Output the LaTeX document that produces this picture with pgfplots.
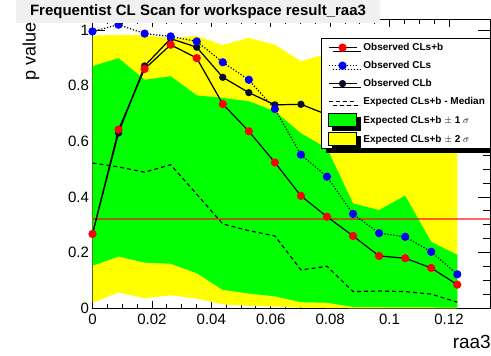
\documentclass[border=0pt]{standalone}
\usepackage{fontspec}
\setmainfont{Liberation Sans}
\usepackage{pgfplots}
\usepackage{pgfplotstable}
\pgfplotsset{compat=1.18}
\usepgfplotslibrary{fillbetween}
\usetikzlibrary{shadows}
\definecolor{rootgreen}{RGB}{0,255,0}
\definecolor{rootyellow}{RGB}{255,255,0}
\definecolor{rootnavy}{RGB}{10,10,45}
\definecolor{titlegray}{RGB}{240,240,240}

\pgfplotstableread{
x        clsb   cls    clb    med    gl     gu     yl     yu
0.00000  0.267  0.995  0.268  0.522  0.153  0.870  0.020  0.980
0.00877  0.642  1.019  0.630  0.508  0.186  0.899  0.057  0.982
0.01754  0.860  0.987  0.871  0.489  0.164  0.821  0.036  0.982
0.02631  0.947  0.977  0.969  0.516  0.160  0.834  0.047  0.970
0.03508  0.899  0.959  0.938  0.410  0.126  0.765  0.035  0.978
0.04385  0.734  0.884  0.830  0.303  0.066  0.756  0.014  0.946
0.05262  0.636  0.821  0.775  0.279  0.053  0.744  0.009  0.972
0.06139  0.524  0.716  0.731  0.260  0.043  0.708  0.006  0.947
0.07016  0.404  0.552  0.733  0.138  0.022  0.629  0.002  0.888
0.07893  0.329  0.473  0.696  0.151  0.020  0.575  0.001  0.915
0.08770  0.260  0.339  0.767  0.060  0.005  0.377  0.000  0.930
0.09647  0.188  0.270  0.696  0.062  0.004  0.353  0.000  0.940
0.10524  0.180  0.257  0.700  0.060  0.003  0.405  0.000  0.950
0.11401  0.145  0.203  0.714  0.051  0.003  0.239  0.000  0.960
0.12278  0.085  0.122  0.697  0.022  0.002  0.192  0.000  0.570
}\scan

\begin{document}
\begin{tikzpicture}[x=1pt,y=1pt]
\path (0,0) rectangle (491,356);
\begin{axis}[
  at={(92.5pt,47.7pt)}, anchor=south west,
  scale only axis, width=397.5pt, height=288.6pt,
  xmin=0, xmax=0.1338, ymin=0, ymax=1.037,
  axis line style={line width=0.8pt},
  tick align=inside, xtick pos=both, ytick pos=both,
  xticklabel pos=lower, yticklabel pos=left,
  xtick={0,0.02,0.04,0.06,0.08,0.1,0.12},
  xticklabels={0,0.02,0.04,0.06,0.08,0.1,0.12},
  ytick={0,0.2,0.4,0.6,0.8,1},
  yticklabels={0,0.2,0.4,0.6,0.8,1},
  minor x tick num=3, minor y tick num=3,
  major tick length=12pt, minor tick length=6.5pt,
  xtick style={line width=0.8pt, black, /pgfplots/major tick length=7pt, /pgfplots/minor tick length=4pt},
  ytick style={line width=0.8pt, black},
  minor tick style={line width=0.8pt, black},
  ticklabel style={font=\fontsize{15}{18}\selectfont},
  xticklabel style={yshift=-2.5pt},
  legend cell align=left,
  legend image code/.code={\draw[mark repeat=2,mark phase=2,#1] plot coordinates {(0pt,0pt) (14pt,0pt) (28pt,0pt)};},
  legend style={at={(0.576,0.9366)}, anchor=north west, draw=black, line width=1pt, fill=white,
    drop shadow={shadow xshift=4pt, shadow yshift=-4pt, fill=black, opacity=1},
    inner xsep=6pt, inner ysep=2.8pt, row sep=5.3pt,
    font=\bfseries\fontsize{10}{12}\selectfont,
    nodes={inner sep=0pt, text height=9.5pt, text depth=3.2pt},
    /tikz/every odd column/.append style={column sep=6.3pt}},
]
% bands
\addplot[name path=yu, draw=none, forget plot] table[x=x,y=yu]{\scan};
\addplot[name path=yl, draw=none, forget plot] table[x=x,y=yl]{\scan};
\addplot[fill=rootyellow, draw=none, forget plot] fill between[of=yu and yl];
\addplot[name path=gu, draw=none, forget plot] table[x=x,y=gu]{\scan};
\addplot[name path=gl, draw=none, forget plot] table[x=x,y=gl]{\scan};
\addplot[fill=rootgreen, draw=none, forget plot] fill between[of=gu and gl];
% median
\addplot[black, line width=1.2pt, dash pattern=on 4pt off 3pt, forget plot] table[x=x,y=med]{\scan};
% reference line
\addplot[red, opacity=0.6, line width=1.5pt, forget plot] coordinates {(0,0.32) (0.1338,0.32)};
% observed CLb
\addplot[black, line width=1.2pt, mark=*, mark size=3pt, mark options={fill=rootnavy, draw=rootnavy, solid}, forget plot] table[x=x,y=clb]{\scan};
% observed CLs
\addplot[black, line width=1.2pt, dash pattern=on 1.2pt off 1.8pt, mark=*, mark size=3.5pt, mark options={fill=blue, draw=blue, solid}, forget plot] table[x=x,y=cls]{\scan};
% observed CLs+b
\addplot[black, line width=1.2pt, mark=*, mark size=3.5pt, mark options={fill=red, draw=red, solid}, forget plot] table[x=x,y=clsb]{\scan};
% legend
\addlegendimage{black, line width=1.2pt, mark=*, mark size=3.5pt, mark options={fill=red, draw=red, solid}}
\addlegendentry{Observed CLs+b}
\addlegendimage{black, line width=1.2pt, dash pattern=on 1.2pt off 1.8pt, mark=*, mark size=3.5pt, mark options={fill=blue, draw=blue, solid}}
\addlegendentry{Observed CLs}
\addlegendimage{black, line width=1.2pt, mark=*, mark size=3pt, mark options={fill=rootnavy, draw=rootnavy, solid}}
\addlegendentry{Observed CLb}
\addlegendimage{black, line width=1.2pt, dash pattern=on 4pt off 3pt}
\addlegendentry{Expected CLs+b - Median}
\addlegendimage{legend image code/.code={\draw[fill=rootgreen, draw=black, line width=1pt] (0pt,-6.35pt) rectangle (28pt,6.35pt);}}
\addlegendentry{Expected CLs+b $\pm$ 1 $\sigma$}
\addlegendimage{legend image code/.code={\draw[fill=rootyellow, draw=black, line width=1pt] (0pt,-6.35pt) rectangle (28pt,6.35pt);}}
\addlegendentry{Expected CLs+b $\pm$ 2 $\sigma$}
\end{axis}
% title box
\fill[titlegray] (16,333) rectangle (380,356);
\node[font=\bfseries\fontsize{15}{18}\selectfont, inner sep=0pt] at (198,344.5) {Frequentist CL Scan for workspace result\_raa3};
% axis titles
\node[font=\fontsize{18}{21}\selectfont, rotate=90, anchor=base east, inner sep=0pt] at (35.5,334) {p value};
\node[font=\fontsize{19}{22}\selectfont, anchor=base east, inner sep=0pt] at (491,7) {raa3};
\pgfresetboundingbox
\useasboundingbox (0,0) rectangle (491,356);
\end{tikzpicture}
\end{document}
